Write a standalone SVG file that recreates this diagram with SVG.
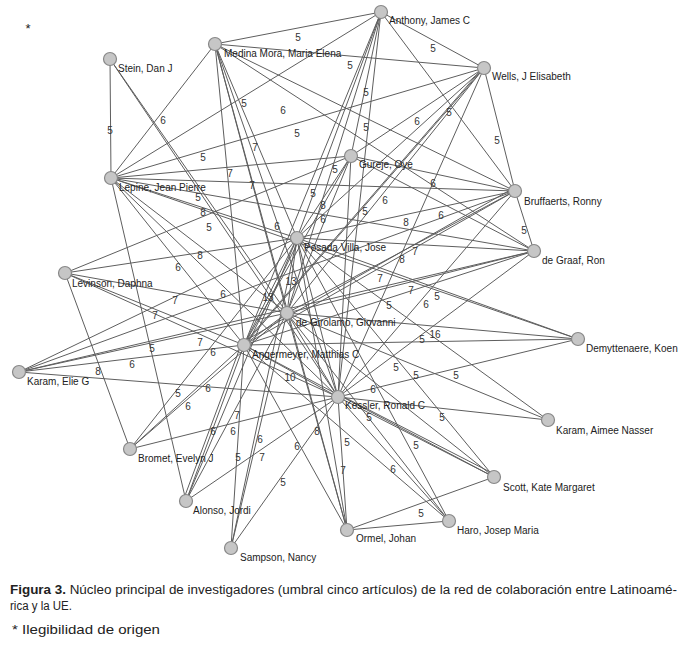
<svg xmlns="http://www.w3.org/2000/svg" width="688" height="647" viewBox="0 0 688 647">
<style>
.e line{stroke:#5e5e5e;stroke-width:1;fill:none}
.n circle{fill:#c6c6c6;stroke:#888;stroke-width:1.2}
.n text{font-family:"Liberation Sans",Arial,sans-serif;font-size:10px;fill:#222}
.w text{font-family:"Liberation Sans",Arial,sans-serif;font-size:10px;fill:#333;text-anchor:middle}
.cap{font-family:"Liberation Sans",Arial,sans-serif;fill:#222}
</style>
<rect width="688" height="647" fill="#fff"/>
<text x="28" y="33" class="cap" font-size="13" text-anchor="middle">*</text>
<g id="connectors" class="e">
<line x1="381" y1="12" x2="215" y2="44"/>
<line x1="381" y1="12" x2="484" y2="68"/>
<line x1="381" y1="12" x2="111" y2="178"/>
<line x1="381" y1="12" x2="515" y2="191"/>
<line x1="381" y1="12" x2="351" y2="156"/>
<line x1="381" y1="12" x2="297" y2="238"/>
<line x1="381" y1="12" x2="287" y2="313"/>
<line x1="381" y1="12" x2="244" y2="345"/>
<line x1="381" y1="12" x2="338" y2="397"/>
<line x1="215" y1="44" x2="484" y2="68"/>
<line x1="215" y1="44" x2="111" y2="178"/>
<line x1="215" y1="44" x2="515" y2="191"/>
<line x1="215" y1="44" x2="297" y2="238"/>
<line x1="215" y1="44" x2="287" y2="313"/>
<line x1="215" y1="44" x2="244" y2="345"/>
<line x1="215" y1="44" x2="338" y2="397"/>
<line x1="215" y1="44" x2="534" y2="251"/>
<line x1="215" y1="44" x2="347" y2="530"/>
<line x1="110" y1="59" x2="111" y2="178"/>
<line x1="110" y1="59" x2="338" y2="397"/>
<line x1="110" y1="59" x2="287" y2="313"/>
<line x1="484" y1="68" x2="111" y2="178"/>
<line x1="484" y1="68" x2="515" y2="191"/>
<line x1="484" y1="68" x2="351" y2="156"/>
<line x1="484" y1="68" x2="297" y2="238"/>
<line x1="484" y1="68" x2="287" y2="313"/>
<line x1="484" y1="68" x2="244" y2="345"/>
<line x1="481" y1="70" x2="241" y2="347"/>
<line x1="484" y1="68" x2="338" y2="397"/>
<line x1="351" y1="156" x2="111" y2="178"/>
<line x1="351" y1="156" x2="515" y2="191"/>
<line x1="351" y1="156" x2="65" y2="273"/>
<line x1="351" y1="156" x2="297" y2="238"/>
<line x1="351" y1="156" x2="287" y2="313"/>
<line x1="351" y1="156" x2="244" y2="345"/>
<line x1="351" y1="156" x2="338" y2="397"/>
<line x1="351" y1="156" x2="534" y2="251"/>
<line x1="111" y1="178" x2="515" y2="191"/>
<line x1="111" y1="178" x2="534" y2="251"/>
<line x1="111" y1="178" x2="297" y2="238"/>
<line x1="111" y1="178" x2="287" y2="313"/>
<line x1="111" y1="178" x2="244" y2="345"/>
<line x1="111" y1="178" x2="338" y2="397"/>
<line x1="111" y1="178" x2="186" y2="501"/>
<line x1="111" y1="178" x2="578" y2="339"/>
<line x1="515" y1="191" x2="297" y2="238"/>
<line x1="515" y1="191" x2="287" y2="313"/>
<line x1="515" y1="191" x2="244" y2="345"/>
<line x1="512" y1="189" x2="241" y2="343"/>
<line x1="515" y1="191" x2="534" y2="251"/>
<line x1="515" y1="191" x2="19" y2="372"/>
<line x1="515" y1="191" x2="338" y2="397"/>
<line x1="297" y1="238" x2="534" y2="251"/>
<line x1="297" y1="238" x2="65" y2="273"/>
<line x1="297" y1="238" x2="287" y2="313"/>
<line x1="297" y1="238" x2="244" y2="345"/>
<line x1="300" y1="238" x2="247" y2="345"/>
<line x1="297" y1="238" x2="338" y2="397"/>
<line x1="297" y1="238" x2="578" y2="339"/>
<line x1="297" y1="238" x2="548" y2="420"/>
<line x1="297" y1="238" x2="494" y2="477"/>
<line x1="297" y1="238" x2="449" y2="521"/>
<line x1="297" y1="238" x2="347" y2="530"/>
<line x1="297" y1="238" x2="231" y2="548"/>
<line x1="297" y1="238" x2="186" y2="501"/>
<line x1="297" y1="238" x2="130" y2="449"/>
<line x1="297" y1="238" x2="19" y2="372"/>
<line x1="534" y1="251" x2="287" y2="313"/>
<line x1="534" y1="251" x2="244" y2="345"/>
<line x1="534" y1="251" x2="338" y2="397"/>
<line x1="534" y1="251" x2="19" y2="372"/>
<line x1="65" y1="273" x2="287" y2="313"/>
<line x1="65" y1="273" x2="244" y2="345"/>
<line x1="65" y1="273" x2="338" y2="397"/>
<line x1="65" y1="273" x2="130" y2="449"/>
<line x1="287" y1="313" x2="578" y2="339"/>
<line x1="287" y1="313" x2="244" y2="345"/>
<line x1="287" y1="313" x2="338" y2="397"/>
<line x1="287" y1="313" x2="548" y2="420"/>
<line x1="287" y1="313" x2="494" y2="477"/>
<line x1="287" y1="313" x2="449" y2="521"/>
<line x1="287" y1="313" x2="347" y2="530"/>
<line x1="287" y1="313" x2="231" y2="548"/>
<line x1="287" y1="313" x2="186" y2="501"/>
<line x1="287" y1="313" x2="130" y2="449"/>
<line x1="287" y1="313" x2="19" y2="372"/>
<line x1="244" y1="345" x2="338" y2="397"/>
<line x1="244" y1="345" x2="578" y2="339"/>
<line x1="244" y1="345" x2="449" y2="521"/>
<line x1="244" y1="345" x2="494" y2="477"/>
<line x1="244" y1="345" x2="347" y2="530"/>
<line x1="244" y1="345" x2="231" y2="548"/>
<line x1="244" y1="345" x2="186" y2="501"/>
<line x1="241" y1="345" x2="183" y2="501"/>
<line x1="244" y1="345" x2="130" y2="449"/>
<line x1="244" y1="345" x2="19" y2="372"/>
<line x1="578" y1="339" x2="338" y2="397"/>
<line x1="19" y1="372" x2="338" y2="397"/>
<line x1="338" y1="397" x2="548" y2="420"/>
<line x1="338" y1="397" x2="494" y2="477"/>
<line x1="338" y1="394" x2="494" y2="474"/>
<line x1="338" y1="397" x2="449" y2="521"/>
<line x1="338" y1="397" x2="347" y2="530"/>
<line x1="338" y1="397" x2="231" y2="548"/>
<line x1="338" y1="397" x2="186" y2="501"/>
<line x1="338" y1="397" x2="130" y2="449"/>
<line x1="494" y1="477" x2="347" y2="530"/>
<line x1="449" y1="521" x2="347" y2="530"/>
</g>
<g id="weights" class="w">
<text x="298" y="41">5</text>
<text x="433" y="52">5</text>
<text x="350" y="69">5</text>
<text x="110" y="134">5</text>
<text x="163" y="124">6</text>
<text x="244" y="107">5</text>
<text x="297" y="137">5</text>
<text x="283" y="114">6</text>
<text x="497" y="144">5</text>
<text x="417" y="125">6</text>
<text x="449" y="116">5</text>
<text x="366" y="96">5</text>
<text x="366" y="131">5</text>
<text x="203" y="161">5</text>
<text x="335" y="173">5</text>
<text x="313" y="197">5</text>
<text x="323" y="209">8</text>
<text x="323" y="223">6</text>
<text x="433" y="187">6</text>
<text x="441" y="219">6</text>
<text x="385" y="204">6</text>
<text x="365" y="215">5</text>
<text x="524" y="234">5</text>
<text x="406" y="226">8</text>
<text x="402" y="263">8</text>
<text x="415" y="255">7</text>
<text x="380" y="282">7</text>
<text x="411" y="294">7</text>
<text x="426" y="308">6</text>
<text x="437" y="300">5</text>
<text x="389" y="309">5</text>
<text x="435" y="338">16</text>
<text x="422" y="343">5</text>
<text x="456" y="379">5</text>
<text x="396" y="371">5</text>
<text x="416" y="379">5</text>
<text x="373" y="393">6</text>
<text x="393" y="473">6</text>
<text x="416" y="449">5</text>
<text x="442" y="421">5</text>
<text x="369" y="421">5</text>
<text x="421" y="517">5</text>
<text x="347" y="446">5</text>
<text x="343" y="474">7</text>
<text x="317" y="435">8</text>
<text x="297" y="450">6</text>
<text x="283" y="486">5</text>
<text x="238" y="461">5</text>
<text x="260" y="443">6</text>
<text x="262" y="461">7</text>
<text x="237" y="419">7</text>
<text x="213" y="435">6</text>
<text x="233" y="435">6</text>
<text x="188" y="410">6</text>
<text x="98" y="375">8</text>
<text x="132" y="368">6</text>
<text x="152" y="352">5</text>
<text x="175" y="304">7</text>
<text x="155" y="319">7</text>
<text x="200" y="346">7</text>
<text x="213" y="356">6</text>
<text x="178" y="397">5</text>
<text x="208" y="392">6</text>
<text x="200" y="259">8</text>
<text x="203" y="216">8</text>
<text x="209" y="231">5</text>
<text x="178" y="271">6</text>
<text x="223" y="298">6</text>
<text x="198" y="201">5</text>
<text x="255" y="151">7</text>
<text x="230" y="177">7</text>
<text x="252" y="189">7</text>
<text x="277" y="230">6</text>
<text x="268" y="301">13</text>
<text x="291" y="285">13</text>
<text x="290" y="381">10</text>
</g>
<g id="n-anthony" class="n"><circle cx="381" cy="12" r="6.5"/><text x="389" y="24">Anthony, James C</text></g>
<g id="n-medina" class="n"><circle cx="215" cy="44" r="6.5"/><text x="224" y="57">Medina Mora, Maria Elena</text></g>
<g id="n-stein" class="n"><circle cx="110" cy="59" r="6.5"/><text x="118" y="72">Stein, Dan J</text></g>
<g id="n-wells" class="n"><circle cx="484" cy="68" r="6.5"/><text x="492" y="80">Wells, J Elisabeth</text></g>
<g id="n-gureje" class="n"><circle cx="351" cy="156" r="6.5"/><text x="359" y="168">Gureje, Oye</text></g>
<g id="n-lepine" class="n"><circle cx="111" cy="178" r="6.5"/><text x="119" y="191">Lepine, Jean Pierre</text></g>
<g id="n-bruffaerts" class="n"><circle cx="515" cy="191" r="6.5"/><text x="524" y="205">Bruffaerts, Ronny</text></g>
<g id="n-posada" class="n"><circle cx="297" cy="238" r="6.5"/><text x="304" y="251">Posada Villa, Jose</text></g>
<g id="n-degraaf" class="n"><circle cx="534" cy="251" r="6.5"/><text x="542" y="264">de Graaf, Ron</text></g>
<g id="n-levinson" class="n"><circle cx="65" cy="273" r="6.5"/><text x="72" y="287">Levinson, Daphna</text></g>
<g id="n-degirolamo" class="n"><circle cx="287" cy="313" r="6.5"/><text x="296" y="326">de Girolamo, Giovanni</text></g>
<g id="n-demyttenaere" class="n"><circle cx="578" cy="339" r="6.5"/><text x="586" y="352">Demyttenaere, Koen</text></g>
<g id="n-angermeyer" class="n"><circle cx="244" cy="345" r="6.5"/><text x="252" y="358">Angermeyer, Matthias C</text></g>
<g id="n-karamelie" class="n"><circle cx="19" cy="372" r="6.5"/><text x="27" y="385">Karam, Elie G</text></g>
<g id="n-kessler" class="n"><circle cx="338" cy="397" r="6.5"/><text x="345" y="409">Kessler, Ronald C</text></g>
<g id="n-karamaimee" class="n"><circle cx="548" cy="420" r="6.5"/><text x="556" y="434">Karam, Aimee Nasser</text></g>
<g id="n-bromet" class="n"><circle cx="130" cy="449" r="6.5"/><text x="138" y="462">Bromet, Evelyn J</text></g>
<g id="n-scott" class="n"><circle cx="494" cy="477" r="6.5"/><text x="503" y="491">Scott, Kate Margaret</text></g>
<g id="n-alonso" class="n"><circle cx="186" cy="501" r="6.5"/><text x="193" y="514">Alonso, Jordi</text></g>
<g id="n-haro" class="n"><circle cx="449" cy="521" r="6.5"/><text x="457" y="534">Haro, Josep Maria</text></g>
<g id="n-ormel" class="n"><circle cx="347" cy="530" r="6.5"/><text x="356" y="542">Ormel, Johan</text></g>
<g id="n-sampson" class="n"><circle cx="231" cy="548" r="6.5"/><text x="240" y="561">Sampson, Nancy</text></g>
<text x="10" y="594" class="cap" font-size="12.5" textLength="667" lengthAdjust="spacingAndGlyphs"><tspan font-weight="bold">Figura 3.</tspan> Núcleo principal de investigadores (umbral cinco artículos) de la red de colaboración entre Latinoamé-</text>
<text x="10" y="610" class="cap" font-size="12.5" textLength="62" lengthAdjust="spacingAndGlyphs">rica y la UE.</text>
<text x="12" y="634" class="cap" font-size="13" textLength="148" lengthAdjust="spacingAndGlyphs">* Ilegibilidad de origen</text>
</svg>
